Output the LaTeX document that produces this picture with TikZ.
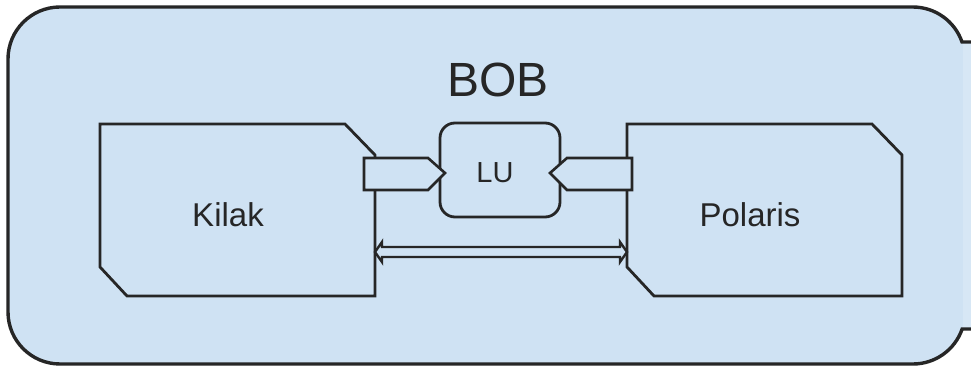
\documentclass[tikz,border=0pt]{standalone}
\usepackage{fontspec}
\setmainfont{Liberation Sans}
\definecolor{bobfill}{HTML}{CFE2F3}
\definecolor{stripfill}{HTML}{D7E7F5}
\definecolor{ink}{HTML}{262626}
\begin{document}
\begin{tikzpicture}[x=1pt,y=1pt,
  outline/.style={draw=ink,line width=2.8pt,line join=miter,fill=bobfill},
  lbl/.style={anchor=base,text=ink,inner sep=0pt}]
\useasboundingbox (0,0) rectangle (971,366);
\fill[white] (0,0) rectangle (971,366);
% outer container
\fill[bobfill] (971,324) -- (962,324) arc[start angle=19.1,end angle=90,radius=52]
  -- (60,359) arc[start angle=90,end angle=180,radius=52]
  -- (8,54) arc[start angle=180,end angle=270,radius=52]
  -- (913,2) arc[start angle=270,end angle=340.9,radius=52]
  -- (971,37) -- cycle;
\fill[stripfill] (963,38) rectangle (971,323);
\draw[ink,line width=3.4pt] (971,324) -- (962,324) arc[start angle=19.1,end angle=90,radius=52]
  -- (60,359) arc[start angle=90,end angle=180,radius=52]
  -- (8,54) arc[start angle=180,end angle=270,radius=52]
  -- (913,2) arc[start angle=270,end angle=340.9,radius=52]
  -- (971,37);
\node[lbl,font=\fontsize{48}{50}\selectfont] (bob) at (498,269) {BOB};
% Kilak
\draw[outline] (100,242) -- (345,242) -- (375,211) -- (375,70) -- (127,70) -- (100,99) -- cycle;
\node[lbl,font=\fontsize{33}{36}\selectfont] (kilak) at (228,139) {Kilak};
% Polaris
\draw[outline] (627,242) -- (872,242) -- (902,211) -- (902,70) -- (654,70) -- (627,99) -- cycle;
\node[lbl,font=\fontsize{33}{36}\selectfont] (polaris) at (750,139) {Polaris};
% LU
\draw[outline,rounded corners=15pt] (440,149) rectangle (560,243);
\node[lbl,font=\fontsize{29}{32}\selectfont] (lu) at (495,183) {LU};
% connectors to LU
\draw[outline,line width=2.6pt] (364,208) -- (428,208) -- (445,193) -- (428,176) -- (364,176) -- cycle;
\draw[outline,line width=2.6pt] (632,208) -- (567,208) -- (550,193) -- (567,176) -- (632,176) -- cycle;
% double arrow between Kilak and Polaris
\draw[outline,line width=2.4pt] (375,114) -- (382,124) -- (382,119) -- (620,119) -- (620,124) -- (627,114)
  -- (620,104) -- (620,109) -- (382,109) -- (382,104) -- cycle;
\end{tikzpicture}
\end{document}
